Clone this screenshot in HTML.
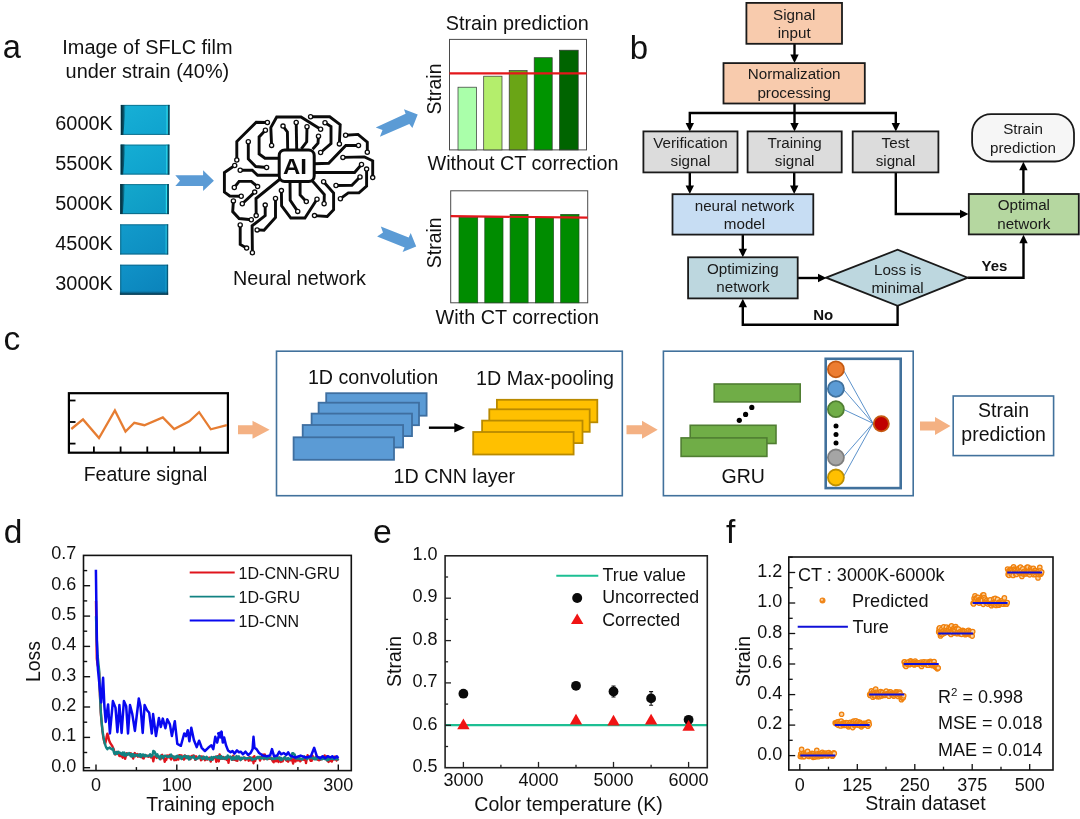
<!DOCTYPE html>
<html><head><meta charset="utf-8"><title>Figure</title>
<style>
html,body{margin:0;padding:0;background:#fff;}
body{width:1080px;height:819px;overflow:hidden;}
svg{display:block;font-family:"Liberation Sans", sans-serif;will-change:transform;}
</style></head>
<body>
<svg width="1080" height="819" viewBox="0 0 1080 819">
<text x="2.7" y="58.3" font-size="32.6" text-anchor="start" fill="#111">a</text>
<text x="147.4" y="53.6" font-size="19.9" text-anchor="middle" fill="#111">Image of SFLC film</text>
<text x="147.4" y="78" font-size="19.9" text-anchor="middle" fill="#111">under strain (40%)</text>
<linearGradient id="fg0" x1="0" y1="0" x2="1" y2="1"><stop offset="0" stop-color="#17B0D6"/><stop offset="1" stop-color="#0FA2CE"/></linearGradient>
<rect x="120.8" y="104.9" width="48.8" height="30.0" fill="url(#fg0)"/>
<linearGradient id="fw0" x1="0" y1="0" x2="1" y2="0"><stop offset="0" stop-color="#031a22" stop-opacity="0.95"/><stop offset="0.55" stop-color="#063f52" stop-opacity="0.8"/><stop offset="1" stop-color="#0a7088" stop-opacity="0"/></linearGradient>
<path d="M120.8,104.9 h5.2 l-2.6,30.0 h-2.6 Z" fill="url(#fw0)"/>
<rect x="166.5" y="104.9" width="1.2" height="30.0" fill="#35E6F2" opacity="0.85"/>
<rect x="167.9" y="104.9" width="1.7" height="30.0" fill="#07384a" opacity="0.85"/>
<rect x="120.8" y="104.9" width="48.8" height="1" fill="#07384a" opacity="0.45"/>
<rect x="120.8" y="133.9" width="48.8" height="1" fill="#07384a" opacity="0.5"/>
<text x="112.8" y="130.3" font-size="19.9" text-anchor="end" fill="#111">6000K</text>
<linearGradient id="fg1" x1="0" y1="0" x2="1" y2="1"><stop offset="0" stop-color="#15AED4"/><stop offset="1" stop-color="#0E9FCC"/></linearGradient>
<rect x="120.6" y="144.6" width="48.8" height="30.0" fill="url(#fg1)"/>
<linearGradient id="fw1" x1="0" y1="0" x2="1" y2="0"><stop offset="0" stop-color="#031a22" stop-opacity="0.95"/><stop offset="0.55" stop-color="#063f52" stop-opacity="0.8"/><stop offset="1" stop-color="#0a7088" stop-opacity="0"/></linearGradient>
<path d="M120.6,144.6 h5.2 l-2.6,30.0 h-2.6 Z" fill="url(#fw1)"/>
<rect x="166.3" y="144.6" width="1.2" height="30.0" fill="#35E6F2" opacity="0.85"/>
<rect x="167.7" y="144.6" width="1.7" height="30.0" fill="#07384a" opacity="0.85"/>
<rect x="120.6" y="144.6" width="48.8" height="1" fill="#07384a" opacity="0.45"/>
<rect x="120.6" y="173.6" width="48.8" height="1" fill="#07384a" opacity="0.5"/>
<text x="112.8" y="170.2" font-size="19.9" text-anchor="end" fill="#111">5500K</text>
<linearGradient id="fg2" x1="0" y1="0" x2="1" y2="1"><stop offset="0" stop-color="#14A8CC"/><stop offset="1" stop-color="#0D98C4"/></linearGradient>
<rect x="120.2" y="184.1" width="48.7" height="30.0" fill="url(#fg2)"/>
<linearGradient id="fw2" x1="0" y1="0" x2="1" y2="0"><stop offset="0" stop-color="#031a22" stop-opacity="0.95"/><stop offset="0.55" stop-color="#063f52" stop-opacity="0.8"/><stop offset="1" stop-color="#0a7088" stop-opacity="0"/></linearGradient>
<path d="M120.2,184.1 h5.2 l-2.6,30.0 h-2.6 Z" fill="url(#fw2)"/>
<rect x="165.8" y="184.1" width="1.2" height="30.0" fill="#35E6F2" opacity="0.85"/>
<rect x="167.2" y="184.1" width="1.7" height="30.0" fill="#07384a" opacity="0.85"/>
<rect x="120.2" y="184.1" width="48.7" height="1" fill="#07384a" opacity="0.45"/>
<rect x="120.2" y="213.1" width="48.7" height="1" fill="#07384a" opacity="0.5"/>
<text x="112.8" y="209.8" font-size="19.9" text-anchor="end" fill="#111">5000K</text>
<linearGradient id="fg3" x1="0" y1="0" x2="1" y2="1"><stop offset="0" stop-color="#129BCB"/><stop offset="1" stop-color="#0C8CC0"/></linearGradient>
<rect x="120.1" y="224.3" width="48.1" height="30.2" fill="url(#fg3)"/>
<rect x="120.1" y="224.3" width="1.2" height="30.2" fill="#0A4F66" opacity="0.5"/>
<rect x="165.6" y="224.3" width="1.1" height="30.2" fill="#30D8EE" opacity="0.8"/>
<rect x="166.9" y="224.3" width="1.3" height="30.2" fill="#07384a" opacity="0.6"/>
<rect x="120.1" y="224.3" width="48.1" height="1" fill="#07384a" opacity="0.45"/>
<rect x="120.1" y="253.5" width="48.1" height="1" fill="#07384a" opacity="0.5"/>
<text x="112.8" y="250.0" font-size="19.9" text-anchor="end" fill="#111">4500K</text>
<linearGradient id="fg4" x1="0" y1="0" x2="1" y2="1"><stop offset="0" stop-color="#1093C8"/><stop offset="1" stop-color="#0A82BA"/></linearGradient>
<rect x="120.1" y="264.7" width="48.0" height="30.0" fill="url(#fg4)"/>
<rect x="120.1" y="264.7" width="1.2" height="30.0" fill="#0A4F66" opacity="0.5"/>
<rect x="165.5" y="264.7" width="1.1" height="30.0" fill="#30D8EE" opacity="0.35"/>
<rect x="166.8" y="264.7" width="1.3" height="30.0" fill="#07384a" opacity="0.6"/>
<rect x="120.1" y="264.7" width="48.0" height="1" fill="#07384a" opacity="0.45"/>
<rect x="120.1" y="293.7" width="48.0" height="1" fill="#07384a" opacity="0.5"/>
<text x="112.8" y="290.2" font-size="19.9" text-anchor="end" fill="#111">3000K</text>
<linearGradient id="fbot" x1="0" y1="0" x2="0" y2="1"><stop offset="0" stop-color="#062a3a" stop-opacity="0"/><stop offset="1" stop-color="#062a3a" stop-opacity="0.85"/></linearGradient>
<rect x="119.8" y="291" width="48.4" height="3.7" fill="url(#fbot)"/>
<path d="M-19.3,-5.4 L8.5,-5.4 L8.5,-10.4 L19.3,0 L8.5,10.4 L8.5,5.4 L-19.3,5.4 L-14.6,0 Z" transform="translate(194.6,180.7)" fill="#5B9BD5"/>
<path d="M375.7,127.4 L405.6,113.8 L404,109.2 L417.7,114.5 L412.4,127.9 L409.3,124 L379.9,136.8 L382.5,129.9 Z" fill="#5B9BD5"/>
<path d="M380.8,226.4 L408.7,237.5 L410.7,233 L416.2,246.6 L402.6,251.9 L404.6,247.6 L377.1,236.4 L383,232.6 Z" fill="#5B9BD5"/>
<g fill="none" stroke="#0b0b0b" stroke-width="2.9" stroke-linejoin="miter" stroke-linecap="butt">
<path d="M267.4,122.5 L256.2,122.2 L236.8,141.5 L236.8,160"/>
<path d="M265.4,130.2 L259.1,136.9 L259.1,154 L265,158.2 L279,158.2"/>
<path d="M248.3,141.8 L248.3,158.9 L255.7,166.5 L266.6,167.5"/>
<path d="M271.6,145.4 L270.8,127.6 L276.7,117 L301,117 L320.6,129.3"/>
<path d="M283,126.1 L287.4,132 L287.7,150"/>
<path d="M296.2,122.5 L296.7,150"/>
<path d="M307,126.8 L306.7,141.8 L301.3,148.8"/>
<path d="M234.7,165.5 L224.4,172.5 L224.4,192.1 L229.8,196 L241.2,196.3"/>
<path d="M240.2,170.3 L252.2,170.3 L257.6,175.3 L279,175.3"/>
<path d="M234.3,187.5 L239.1,181.4 L251.3,181.4 L257.6,186.6"/>
<path d="M279.5,179.5 L256,198.5 L256.2,215.6"/>
<path d="M318.5,136.2 L318,143.2 L312.6,149.3"/>
<path d="M310.6,116.8 L329.7,116.8 L340.2,124.7 L339.4,143.9"/>
<path d="M325,122.7 L331,126.6 L331,143.7 L320.6,152.5"/>
<path d="M345.6,135.2 L358,134.4 L367.3,142.2 L367.3,152.3"/>
<path d="M358.5,145.5 L345.8,145.5 L328.7,163.3 L314.5,163.7"/>
<path d="M342.9,157.4 L364.4,156.9 L372.7,160.8 L372.7,177.6"/>
<path d="M314.5,172.5 L354.6,172.5 L361.5,164.5"/>
<path d="M336,185.5 L351.9,185.3 L360,177"/>
<path d="M366.6,169.1 L366.6,186.2 L359,192.9 L348.3,192.9 L340.4,198.7"/>
<path d="M323.6,181.8 L333.6,193.1 L333.6,209.7 L327.2,216.5 L314.5,215.6"/>
<path d="M312.2,180.8 L324.3,194.5 L324.1,203.8"/>
<path d="M254.7,192.1 L242.3,203.8"/>
<path d="M233.4,200.9 L232.7,211.6 L239.1,218.5 L251.3,219.8"/>
<path d="M265.2,205.1 L265.2,215.6 L252.1,225.8 L252.4,252.7"/>
<path d="M275.5,198.5 L275.5,217.5 L264,230.2 L257.1,229.9"/>
<path d="M240.2,225 L240.2,244.4 L246.6,248.1"/>
<path d="M281.4,190.6 L281.6,205.8 L290.8,218 L304.9,218 L317,199.2"/>
<path d="M290,181.5 L290.2,200.4 L297.7,211.4"/>
<path d="M300.1,181.5 L300.1,195 L306.3,201.6"/>
</g>
<g fill="#fff" stroke="#0b0b0b" stroke-width="1.3">
<circle cx="267.4" cy="122.5" r="2.1"/>
<circle cx="236.8" cy="160" r="2.1"/>
<circle cx="265.4" cy="130.2" r="2.1"/>
<circle cx="248.3" cy="141.8" r="2.1"/>
<circle cx="266.6" cy="167.5" r="2.1"/>
<circle cx="271.6" cy="145.4" r="2.1"/>
<circle cx="320.6" cy="129.3" r="2.1"/>
<circle cx="283" cy="126.1" r="2.1"/>
<circle cx="296.2" cy="122.5" r="2.1"/>
<circle cx="307" cy="126.8" r="2.1"/>
<circle cx="234.7" cy="165.5" r="2.1"/>
<circle cx="241.2" cy="196.3" r="2.1"/>
<circle cx="240.2" cy="170.3" r="2.1"/>
<circle cx="234.3" cy="187.5" r="2.1"/>
<circle cx="257.6" cy="186.6" r="2.1"/>
<circle cx="256.2" cy="215.6" r="2.1"/>
<circle cx="318.5" cy="136.2" r="2.1"/>
<circle cx="310.6" cy="116.8" r="2.1"/>
<circle cx="339.4" cy="143.9" r="2.1"/>
<circle cx="325" cy="122.7" r="2.1"/>
<circle cx="320.6" cy="152.5" r="2.1"/>
<circle cx="345.6" cy="135.2" r="2.1"/>
<circle cx="367.3" cy="152.3" r="2.1"/>
<circle cx="358.5" cy="145.5" r="2.1"/>
<circle cx="342.9" cy="157.4" r="2.1"/>
<circle cx="372.7" cy="177.6" r="2.1"/>
<circle cx="361.5" cy="164.5" r="2.1"/>
<circle cx="336" cy="185.5" r="2.1"/>
<circle cx="360" cy="177" r="2.1"/>
<circle cx="366.6" cy="169.1" r="2.1"/>
<circle cx="340.4" cy="198.7" r="2.1"/>
<circle cx="323.6" cy="181.8" r="2.1"/>
<circle cx="314.5" cy="215.6" r="2.1"/>
<circle cx="324.1" cy="203.8" r="2.1"/>
<circle cx="254.7" cy="192.1" r="2.1"/>
<circle cx="242.3" cy="203.8" r="2.1"/>
<circle cx="233.4" cy="200.9" r="2.1"/>
<circle cx="251.3" cy="219.8" r="2.1"/>
<circle cx="265.2" cy="205.1" r="2.1"/>
<circle cx="252.4" cy="252.7" r="2.1"/>
<circle cx="275.5" cy="198.5" r="2.1"/>
<circle cx="257.1" cy="229.9" r="2.1"/>
<circle cx="240.2" cy="225" r="2.1"/>
<circle cx="246.6" cy="248.1" r="2.1"/>
<circle cx="281.4" cy="190.6" r="2.1"/>
<circle cx="317" cy="199.2" r="2.1"/>
<circle cx="297.7" cy="211.4" r="2.1"/>
<circle cx="306.3" cy="201.6" r="2.1"/>
</g>
<rect x="279.2" y="150" width="35" height="31.5" rx="5.5" fill="#fff" stroke="#0b0b0b" stroke-width="3"/>
<text transform="translate(294.9,174) scale(1.09,1)" font-size="22" font-weight="bold" text-anchor="middle" fill="#0b0b0b">AI</text>
<text x="299.5" y="284.7" font-size="19.8" text-anchor="middle" fill="#111">Neural network</text>
<text x="517.2" y="30" font-size="19.8" text-anchor="middle" fill="#111">Strain prediction</text>
<rect x="449.5" y="39.4" width="137" height="110.5" fill="#fff" stroke="#4a4a4a" stroke-width="1"/>
<rect x="458" y="87.2" width="18.5" height="62.7" fill="#AAFFAA" stroke="#333" stroke-width="0.7"/>
<rect x="483.7" y="76.2" width="18.3" height="73.7" fill="#B4EE6C" stroke="#333" stroke-width="0.7"/>
<rect x="509.2" y="70.6" width="17.9" height="79.3" fill="#6AA516" stroke="#333" stroke-width="0.7"/>
<rect x="534.2" y="57.7" width="18.0" height="92.2" fill="#009400" stroke="#333" stroke-width="0.7"/>
<rect x="559.5" y="50.2" width="18.7" height="99.7" fill="#006400" stroke="#333" stroke-width="0.7"/>
<line x1="449.5" y1="73.3" x2="586.5" y2="73.3" stroke="#E3171B" stroke-width="2.2"/>
<text transform="translate(440.6,89) rotate(-90)" font-size="19.5" text-anchor="middle" fill="#111">Strain</text>
<text x="523" y="169.6" font-size="19.8" text-anchor="middle" fill="#111">Without CT correction</text>
<rect x="450.7" y="190.8" width="137" height="112" fill="#fff" stroke="#4a4a4a" stroke-width="1"/>
<rect x="459" y="217.3" width="18.7" height="85.5" fill="#008C00" stroke="#1d4d1d" stroke-width="0.7"/>
<rect x="484.8" y="217.3" width="18.2" height="85.5" fill="#008C00" stroke="#1d4d1d" stroke-width="0.7"/>
<rect x="510.1" y="214.4" width="18.0" height="88.4" fill="#008C00" stroke="#1d4d1d" stroke-width="0.7"/>
<rect x="535.4" y="217.3" width="18.1" height="85.5" fill="#008C00" stroke="#1d4d1d" stroke-width="0.7"/>
<rect x="560.7" y="214.4" width="18.3" height="88.4" fill="#008C00" stroke="#1d4d1d" stroke-width="0.7"/>
<line x1="450.7" y1="216.1" x2="587.7" y2="217.7" stroke="#E3171B" stroke-width="2.2"/>
<text transform="translate(441.2,242.8) rotate(-90)" font-size="19.5" text-anchor="middle" fill="#111">Strain</text>
<text x="517.3" y="324.1" font-size="19.8" text-anchor="middle" fill="#111">With CT correction</text>
<text x="629.7" y="58.7" font-size="33" text-anchor="start" fill="#111">b</text>
<g fill="none" stroke="#000" stroke-width="2.4" stroke-linejoin="miter">
<path d="M794.5,43.8 V58"/>
<path d="M794.5,103.5 V126"/>
<path d="M689.8,126 V113 H895.8 V126"/>
<path d="M689.8,172 V188"/>
<path d="M794.2,172 V188"/>
<path d="M742.8,234.6 V251"/>
<path d="M797.7,278 H820"/>
<path d="M895.8,172 V214 H962"/>
<path d="M1023.4,194 V168"/>
<path d="M967.7,277.7 H1023.5 V241"/>
<path d="M897.6,305.8 V324.8 H742.8 V305"/>
</g>
<path d="M794.5,63.1 L790.3,54.6 L798.7,54.6 Z" fill="#000"/>
<path d="M794.5,131.4 L790.3,122.9 L798.7,122.9 Z" fill="#000"/>
<path d="M689.8,131.4 L685.5999999999999,122.9 L694.0,122.9 Z" fill="#000"/>
<path d="M895.8,131.4 L891.5999999999999,122.9 L900.0,122.9 Z" fill="#000"/>
<path d="M689.8,194 L685.5999999999999,185.5 L694.0,185.5 Z" fill="#000"/>
<path d="M794.2,194 L790.0,185.5 L798.4000000000001,185.5 Z" fill="#000"/>
<path d="M742.8,257.3 L738.5999999999999,248.8 L747.0,248.8 Z" fill="#000"/>
<path d="M826.5,278 L818.0,273.8 L818.0,282.2 Z" fill="#000"/>
<path d="M968.5,214 L960.0,209.8 L960.0,218.2 Z" fill="#000"/>
<path d="M1023.4,161.8 L1019.1999999999999,170.3 L1027.6,170.3 Z" fill="#000"/>
<path d="M1023.5,234.8 L1019.3,243.3 L1027.7,243.3 Z" fill="#000"/>
<path d="M742.8,298.8 L738.5999999999999,307.3 L747.0,307.3 Z" fill="#000"/>
<rect x="746.4" y="2.9" width="95.6" height="40.9" fill="#F8CBAD" stroke="#1a1a1a" stroke-width="1.8"/><text x="794.2" y="19.7" font-size="15.2" text-anchor="middle" fill="#1a1a1a">Signal</text><text x="794.2" y="38" font-size="15.2" text-anchor="middle" fill="#1a1a1a">input</text>
<rect x="723.5" y="63.1" width="141.3" height="40.4" fill="#F8CBAD" stroke="#1a1a1a" stroke-width="1.8"/><text x="794.15" y="79.4" font-size="15.2" text-anchor="middle" fill="#1a1a1a">Normalization</text><text x="794.15" y="98.2" font-size="15.2" text-anchor="middle" fill="#1a1a1a">processing</text>
<rect x="643.4" y="131.4" width="94.1" height="41.0" fill="#DCDCDC" stroke="#1a1a1a" stroke-width="1.8"/><text x="690.45" y="148" font-size="15.2" text-anchor="middle" fill="#1a1a1a">Verification</text><text x="690.45" y="166.1" font-size="15.2" text-anchor="middle" fill="#1a1a1a">signal</text>
<rect x="747.6" y="131.4" width="94.1" height="41.0" fill="#DCDCDC" stroke="#1a1a1a" stroke-width="1.8"/><text x="794.6500000000001" y="148" font-size="15.2" text-anchor="middle" fill="#1a1a1a">Training</text><text x="794.6500000000001" y="166.1" font-size="15.2" text-anchor="middle" fill="#1a1a1a">signal</text>
<rect x="852.7" y="131.4" width="85.7" height="41.0" fill="#DCDCDC" stroke="#1a1a1a" stroke-width="1.8"/><text x="895.55" y="148" font-size="15.2" text-anchor="middle" fill="#1a1a1a">Test</text><text x="895.55" y="166.1" font-size="15.2" text-anchor="middle" fill="#1a1a1a">signal</text>
<rect x="672.5" y="194.2" width="140.8" height="40.4" fill="#C7DDF3" stroke="#1a1a1a" stroke-width="1.8"/><text x="744.5" y="210.6" font-size="15.2" text-anchor="middle" fill="#1a1a1a">neural network</text><text x="744.5" y="229.1" font-size="15.2" text-anchor="middle" fill="#1a1a1a">model</text>
<rect x="688.1" y="257.3" width="109.6" height="41.1" fill="#BDD7DF" stroke="#1a1a1a" stroke-width="1.8"/><text x="742.9000000000001" y="274.3" font-size="15.2" text-anchor="middle" fill="#1a1a1a">Optimizing</text><text x="742.9000000000001" y="292.4" font-size="15.2" text-anchor="middle" fill="#1a1a1a">network</text>
<rect x="968.8" y="194" width="110.0" height="40.4" fill="#B5D7A0" stroke="#1a1a1a" stroke-width="1.8"/><text x="1023.8" y="210.4" font-size="15.2" text-anchor="middle" fill="#1a1a1a">Optimal</text><text x="1023.8" y="228.9" font-size="15.2" text-anchor="middle" fill="#1a1a1a">network</text>
<rect x="972.1" y="114.1" width="101.9" height="47.4" fill="#F6F6F6" stroke="#1a1a1a" stroke-width="1.8" rx="19"/><text x="1023.05" y="133.8" font-size="15.2" text-anchor="middle" fill="#1a1a1a">Strain</text><text x="1023.05" y="152.6" font-size="15.2" text-anchor="middle" fill="#1a1a1a">prediction</text>
<path d="M826.1,277.7 L897.6,249.7 L967.7,277.7 L897.6,305.8 Z" fill="#BDD7DF" stroke="#1a1a1a" stroke-width="1.8" stroke-linejoin="miter"/>
<text x="897.6" y="274.5" font-size="15.2" text-anchor="middle" fill="#1a1a1a">Loss is</text>
<text x="897.6" y="292.6" font-size="15.2" text-anchor="middle" fill="#1a1a1a">minimal</text>
<text x="981.5" y="271.4" font-size="15" text-anchor="start" font-weight="bold" fill="#111">Yes</text>
<text x="813.2" y="319.6" font-size="15" text-anchor="start" font-weight="bold" fill="#111">No</text>
<text x="3.4" y="350.0" font-size="33.6" text-anchor="start" fill="#111">c</text>
<rect x="68.9" y="393.2" width="159" height="59.5" fill="#fff" stroke="#000" stroke-width="2.2"/>
<g stroke="#000" stroke-width="1.8">
<line x1="69" y1="400.5" x2="75.5" y2="400.5"/>
<line x1="69" y1="422" x2="75.5" y2="422"/>
<line x1="69" y1="443.6" x2="75.5" y2="443.6"/>
<line x1="93.9" y1="452" x2="93.9" y2="446.5"/>
<line x1="120.6" y1="452" x2="120.6" y2="446.5"/>
<line x1="147.3" y1="452" x2="147.3" y2="446.5"/>
<line x1="174.2" y1="452" x2="174.2" y2="446.5"/>
<line x1="200.2" y1="452" x2="200.2" y2="446.5"/>
</g>
<polyline fill="none" stroke="#E67D32" stroke-width="2.3" stroke-linejoin="miter" points="71.3,429 83,419.4 99,438.1 114.9,410.4 125.5,431.6 134.3,422.8 144.4,425.2 162.8,417.4 174.2,429 189.3,421.3 199.1,412.2 210.8,429.3 226.9,425.2"/>
<text x="145.5" y="481.1" font-size="19.5" text-anchor="middle" fill="#111">Feature signal</text>
<path d="M238,425.3 H252.5 V420.8 L269.6,429.8 L252.5,438.8 V434.3 H238 Z" fill="#F4B183"/>
<path d="M626.5,425.3 H642 V420.8 L657.7,429.8 L642,438.8 V434.3 H626.5 Z" fill="#F4B183"/>
<path d="M920,421.5 H935 V417 L950.5,426 L935,435 V430.5 H920 Z" fill="#F4B183"/>
<rect x="276.5" y="351.2" width="345.8" height="144.5" fill="#fff" stroke="#41719C" stroke-width="1.6"/>
<text x="307.9" y="384.2" font-size="19.7" text-anchor="start" fill="#111">1D convolution</text>
<text x="476.09999999999997" y="385.1" font-size="19.7" text-anchor="start" fill="#111">1D Max-pooling</text>
<text x="393.59999999999997" y="482.7" font-size="19.7" text-anchor="start" fill="#111">1D CNN layer</text>
<rect x="326.2" y="393.2" width="100.4" height="22.5" fill="#5B9BD5" stroke="#3F6FA0" stroke-width="1.8"/>
<rect x="318.6" y="402.7" width="100.4" height="22.5" fill="#5B9BD5" stroke="#3F6FA0" stroke-width="1.8"/>
<rect x="311.6" y="413.6" width="100.4" height="22.5" fill="#5B9BD5" stroke="#3F6FA0" stroke-width="1.8"/>
<rect x="302.7" y="425.0" width="100.4" height="22.5" fill="#5B9BD5" stroke="#3F6FA0" stroke-width="1.8"/>
<rect x="293.6" y="437.3" width="100.4" height="22.5" fill="#5B9BD5" stroke="#3F6FA0" stroke-width="1.8"/>
<rect x="496.9" y="399.8" width="100.4" height="22.5" fill="#FFC000" stroke="#B98A00" stroke-width="1.8"/>
<rect x="489.3" y="409.3" width="100.4" height="22.5" fill="#FFC000" stroke="#B98A00" stroke-width="1.8"/>
<rect x="482.1" y="420.6" width="100.4" height="22.5" fill="#FFC000" stroke="#B98A00" stroke-width="1.8"/>
<rect x="473.2" y="432.0" width="100.4" height="22.5" fill="#FFC000" stroke="#B98A00" stroke-width="1.8"/>
<line x1="428.9" y1="427.7" x2="456" y2="427.7" stroke="#000" stroke-width="2.4"/>
<path d="M465,427.7 L454.3,423 L454.3,432.4 Z" fill="#000"/>
<rect x="663.4" y="351.2" width="249.8" height="144.5" fill="#fff" stroke="#41719C" stroke-width="1.6"/>
<rect x="714.2" y="384.0" width="86.0" height="17.9" fill="#70AD47" stroke="#507E32" stroke-width="1.6"/>
<rect x="690.2" y="425.3" width="85.8" height="18.2" fill="#70AD47" stroke="#507E32" stroke-width="1.6"/>
<rect x="681.1" y="437.9" width="85.8" height="18.5" fill="#70AD47" stroke="#507E32" stroke-width="1.6"/>
<circle cx="751.8" cy="407.4" r="2.6" fill="#000"/>
<circle cx="745.6" cy="414.4" r="2.6" fill="#000"/>
<circle cx="739.3" cy="420.3" r="2.6" fill="#000"/>
<text x="743.2" y="482.7" font-size="19.5" text-anchor="middle" fill="#111">GRU</text>
<rect x="825.7" y="358.8" width="75" height="129.3" fill="#fff" stroke="#41719C" stroke-width="2.6"/>
<line x1="843" y1="369.3" x2="873" y2="423.3" stroke="#4A86C5" stroke-width="0.9"/>
<line x1="843" y1="388.8" x2="873" y2="423.3" stroke="#4A86C5" stroke-width="0.9"/>
<line x1="843" y1="409.2" x2="873" y2="423.3" stroke="#4A86C5" stroke-width="0.9"/>
<line x1="843" y1="457.5" x2="873" y2="423.3" stroke="#4A86C5" stroke-width="0.9"/>
<line x1="843" y1="477.5" x2="873" y2="423.3" stroke="#4A86C5" stroke-width="0.9"/>
<circle cx="835.9" cy="369.3" r="8" fill="#ED7D31" stroke="#C55A11" stroke-width="1.8"/>
<circle cx="835.9" cy="388.8" r="8" fill="#5B9BD5" stroke="#41719C" stroke-width="1.8"/>
<circle cx="835.9" cy="409.2" r="8" fill="#70AD47" stroke="#507E32" stroke-width="1.8"/>
<circle cx="835.9" cy="457.5" r="8" fill="#A5A5A5" stroke="#7F7F7F" stroke-width="1.8"/>
<circle cx="835.9" cy="477.5" r="8" fill="#FFC000" stroke="#BF9000" stroke-width="1.8"/>
<circle cx="881.3" cy="423.8" r="7.6" fill="#C00000" stroke="#C55A11" stroke-width="1.8"/>
<circle cx="836" cy="426" r="2.5" fill="#000"/>
<circle cx="836" cy="434.4" r="2.5" fill="#000"/>
<circle cx="836" cy="443" r="2.5" fill="#000"/>
<rect x="953.2" y="396" width="100.4" height="59.6" fill="#fff" stroke="#41719C" stroke-width="1.6"/>
<text x="1003.6" y="417" font-size="19.5" text-anchor="middle" fill="#111">Strain</text>
<text x="1003.6" y="440.8" font-size="19.5" text-anchor="middle" fill="#111">prediction</text>
<text x="3.8" y="542.6" font-size="33.5" text-anchor="start" fill="#111">d</text>
<polyline fill="none" stroke="#E0141C" stroke-width="2.4" stroke-linejoin="round" points="96.0,600.9 96.8,658.5 97.6,664.6 98.4,667.6 99.2,673.7 100.0,696.4 100.8,713.1 101.7,723.7 102.5,731.3 103.3,737.4 104.1,741.0 104.9,744.0 105.7,741.9 106.5,737.4 107.3,733.7 108.1,735.6 108.9,739.8 109.7,741.9 110.5,743.4 111.3,744.6 112.2,745.9 113.0,747.7 113.8,749.5 114.6,753.4 115.4,754.4 116.2,753.3 117.0,752.0 117.8,751.9 118.6,753.1 119.4,756.0 120.2,755.0 121.0,756.2 121.8,755.1 122.7,757.7 123.5,754.1 124.3,753.6 125.1,758.9 125.9,756.0 126.7,753.3 127.5,754.7 128.3,754.4 129.1,754.1 129.9,754.4 130.7,753.2 131.5,754.5 132.3,756.6 133.2,758.6 134.0,754.0 134.8,753.1 135.6,756.1 136.4,754.8 137.2,754.0 138.0,756.7 138.8,756.0 139.6,754.6 140.4,756.9 141.2,756.5 142.0,756.8 142.8,758.1 143.7,758.5 144.5,755.4 145.3,755.1 146.1,756.3 146.9,755.6 147.7,756.2 148.5,756.7 149.3,755.8 150.1,756.2 150.9,757.4 151.7,755.3 152.5,756.2 153.3,761.2 154.2,756.6 155.0,756.6 155.8,755.9 156.6,757.9 157.4,756.5 158.2,757.3 159.0,757.3 159.8,758.0 160.6,759.2 161.4,755.7 162.2,754.8 163.0,757.9 163.8,756.3 164.7,761.8 165.5,759.8 166.3,759.9 167.1,755.4 167.9,757.1 168.7,757.2 169.5,755.0 170.3,758.0 171.1,759.5 171.9,758.0 172.7,756.4 173.5,756.6 174.3,760.2 175.2,759.3 176.0,760.1 176.8,756.5 177.6,759.3 178.4,759.6 179.2,755.1 180.0,755.2 180.8,758.1 181.6,755.5 182.4,758.8 183.2,757.2 184.0,759.6 184.8,755.4 185.7,758.2 186.5,756.2 187.3,757.7 188.1,758.4 188.9,758.6 189.7,756.6 190.5,759.0 191.3,756.6 192.1,755.8 192.9,756.3 193.7,755.4 194.5,756.6 195.3,759.9 196.2,756.3 197.0,758.1 197.8,758.2 198.6,757.8 199.4,758.1 200.2,756.5 201.0,760.3 201.8,756.4 202.6,759.2 203.4,756.9 204.2,756.9 205.0,760.2 205.8,759.3 206.7,759.2 207.5,759.6 208.3,758.5 209.1,757.7 209.9,757.8 210.7,761.6 211.5,758.8 212.3,759.8 213.1,759.1 213.9,757.1 214.7,757.8 215.5,757.3 216.3,761.9 217.2,756.2 218.0,759.2 218.8,761.4 219.6,754.4 220.4,757.3 221.2,758.7 222.0,757.0 222.8,758.6 223.6,757.1 224.4,758.8 225.2,759.1 226.0,758.4 226.8,759.9 227.7,756.6 228.5,762.9 229.3,757.8 230.1,757.9 230.9,757.7 231.7,756.9 232.5,759.8 233.3,755.6 234.1,759.7 234.9,758.3 235.7,760.3 236.5,756.9 237.3,760.9 238.2,757.0 239.0,757.3 239.8,758.2 240.6,759.9 241.4,757.8 242.2,758.9 243.0,758.1 243.8,758.4 244.6,757.4 245.4,760.1 246.2,758.7 247.0,758.5 247.8,758.4 248.7,760.8 249.5,757.0 250.3,759.1 251.1,760.4 251.9,758.7 252.7,757.5 253.5,763.2 254.3,756.2 255.1,761.1 255.9,757.9 256.7,758.5 257.5,757.6 258.3,757.8 259.2,757.2 260.0,760.6 260.8,757.6 261.6,757.1 262.4,757.3 263.2,754.6 264.0,759.2 264.8,754.5 265.6,757.4 266.4,758.9 267.2,758.6 268.0,757.0 268.8,758.9 269.7,758.0 270.5,758.8 271.3,757.8 272.1,760.0 272.9,761.4 273.7,762.3 274.5,758.0 275.3,759.0 276.1,761.3 276.9,758.1 277.7,760.4 278.5,762.0 279.3,757.4 280.2,759.1 281.0,761.9 281.8,760.8 282.6,761.3 283.4,758.6 284.2,757.8 285.0,757.1 285.8,759.9 286.6,760.8 287.4,759.0 288.2,761.7 289.0,759.1 289.8,759.6 290.7,760.3 291.5,758.4 292.3,760.2 293.1,763.6 293.9,759.0 294.7,758.7 295.5,761.4 296.3,759.6 297.1,758.0 297.9,760.5 298.7,759.2 299.5,758.6 300.3,761.3 301.2,760.3 302.0,759.3 302.8,758.9 303.6,759.8 304.4,759.6 305.2,758.9 306.0,763.1 306.8,758.7 307.6,755.2 308.4,757.0 309.2,757.5 310.0,759.4 310.8,760.9 311.7,760.8 312.5,755.6 313.3,759.1 314.1,759.1 314.9,758.7 315.7,758.0 316.5,756.2 317.3,759.1 318.1,759.9 318.9,760.3 319.7,760.0 320.5,758.0 321.3,759.2 322.2,757.8 323.0,758.7 323.8,757.3 324.6,755.4 325.4,757.9 326.2,759.3 327.0,756.2 327.8,761.2 328.6,761.9 329.4,760.0 330.2,759.7 331.0,761.0 331.8,761.6 332.7,758.7 333.5,759.6 334.3,759.0 335.1,756.6 335.9,759.4 336.7,760.4 337.5,759.8 338.3,758.4"/>
<polyline fill="none" stroke="#128282" stroke-width="2.4" stroke-linejoin="round" points="96.0,616.1 96.8,640.3 97.6,655.5 98.4,663.1 99.2,670.6 100.0,694.9 100.8,711.6 101.7,722.8 102.5,730.7 103.3,735.9 104.1,740.4 104.9,743.7 105.7,746.2 106.5,748.0 107.3,749.2 108.1,748.1 108.9,748.1 109.7,747.5 110.5,748.7 111.3,748.9 112.2,749.4 113.0,748.5 113.8,752.0 114.6,754.1 115.4,752.5 116.2,752.1 117.0,754.1 117.8,752.3 118.6,751.8 119.4,753.1 120.2,752.8 121.0,753.9 121.8,754.5 122.7,752.6 123.5,755.2 124.3,752.6 125.1,755.8 125.9,753.9 126.7,755.3 127.5,753.4 128.3,754.3 129.1,753.1 129.9,754.2 130.7,756.2 131.5,754.0 132.3,756.7 133.2,754.2 134.0,755.2 134.8,756.3 135.6,754.7 136.4,755.0 137.2,755.2 138.0,756.0 138.8,754.5 139.6,756.3 140.4,754.2 141.2,756.9 142.0,755.8 142.8,754.5 143.7,754.7 144.5,756.6 145.3,754.9 146.1,755.6 146.9,755.9 147.7,756.2 148.5,755.6 149.3,755.4 150.1,754.3 150.9,756.6 151.7,756.3 152.5,755.4 153.3,751.0 154.2,751.3 155.0,752.4 155.8,755.6 156.6,756.2 157.4,754.3 158.2,757.0 159.0,756.8 159.8,759.1 160.6,755.7 161.4,756.7 162.2,755.9 163.0,758.2 163.8,757.0 164.7,755.8 165.5,755.8 166.3,756.2 167.1,756.7 167.9,757.0 168.7,756.2 169.5,757.0 170.3,756.0 171.1,754.5 171.9,756.1 172.7,756.9 173.5,756.8 174.3,758.4 175.2,756.5 176.0,758.0 176.8,755.9 177.6,755.8 178.4,757.1 179.2,756.5 180.0,758.0 180.8,756.3 181.6,759.0 182.4,757.3 183.2,756.9 184.0,755.9 184.8,756.2 185.7,756.0 186.5,758.0 187.3,757.2 188.1,756.1 188.9,759.5 189.7,759.1 190.5,757.1 191.3,757.4 192.1,757.4 192.9,757.5 193.7,756.1 194.5,758.1 195.3,759.2 196.2,759.3 197.0,758.6 197.8,757.7 198.6,758.1 199.4,755.9 200.2,757.1 201.0,757.8 201.8,758.1 202.6,759.1 203.4,756.7 204.2,757.6 205.0,757.5 205.8,759.1 206.7,756.8 207.5,758.5 208.3,759.1 209.1,758.8 209.9,759.9 210.7,758.3 211.5,757.1 212.3,759.8 213.1,757.5 213.9,757.1 214.7,757.2 215.5,756.6 216.3,757.4 217.2,757.0 218.0,758.1 218.8,756.1 219.6,757.4 220.4,758.7 221.2,756.1 222.0,757.4 222.8,758.7 223.6,757.6 224.4,757.9 225.2,758.8 226.0,757.1 226.8,758.7 227.7,755.5 228.5,757.4 229.3,757.4 230.1,756.4 230.9,758.0 231.7,759.7 232.5,757.7 233.3,756.8 234.1,759.3 234.9,757.7 235.7,758.4 236.5,756.1 237.3,759.1 238.2,756.5 239.0,756.4 239.8,758.9 240.6,760.0 241.4,758.1 242.2,758.7 243.0,757.7 243.8,757.5 244.6,758.4 245.4,758.1 246.2,758.7 247.0,758.2 247.8,758.1 248.7,758.3 249.5,757.8 250.3,757.8 251.1,757.8 251.9,759.9 252.7,759.0 253.5,759.2 254.3,759.1 255.1,758.5 255.9,758.9 256.7,757.8 257.5,756.9 258.3,758.2 259.2,756.7 260.0,757.3 260.8,758.4 261.6,758.5 262.4,757.7 263.2,758.5 264.0,757.1 264.8,758.2 265.6,758.6 266.4,757.4 267.2,759.3 268.0,758.0 268.8,757.6 269.7,757.5 270.5,758.1 271.3,758.5 272.1,759.3 272.9,758.3 273.7,758.7 274.5,759.0 275.3,757.8 276.1,758.6 276.9,756.7 277.7,757.4 278.5,758.5 279.3,757.7 280.2,760.1 281.0,757.8 281.8,760.0 282.6,759.0 283.4,758.4 284.2,757.8 285.0,757.0 285.8,759.6 286.6,759.4 287.4,758.5 288.2,758.0 289.0,759.5 289.8,758.6 290.7,758.5 291.5,757.8 292.3,753.1 293.1,753.1 293.9,753.9 294.7,754.4 295.5,758.3 296.3,758.7 297.1,758.0 297.9,758.5 298.7,758.6 299.5,757.8 300.3,759.1 301.2,758.8 302.0,759.5 302.8,758.9 303.6,758.0 304.4,756.4 305.2,757.5 306.0,757.5 306.8,759.2 307.6,758.0 308.4,758.2 309.2,757.8 310.0,758.1 310.8,758.1 311.7,757.5 312.5,758.3 313.3,758.7 314.1,757.5 314.9,759.3 315.7,758.0 316.5,759.3 317.3,757.0 318.1,758.3 318.9,757.3 319.7,757.9 320.5,759.2 321.3,757.4 322.2,759.2 323.0,758.6 323.8,757.2 324.6,759.1 325.4,758.6 326.2,759.2 327.0,760.2 327.8,757.3 328.6,760.0 329.4,757.5 330.2,758.7 331.0,758.7 331.8,758.6 332.7,758.7 333.5,758.2 334.3,759.4 335.1,759.1 335.9,757.9 336.7,759.1 337.5,759.5 338.3,758.4"/>
<polyline fill="none" stroke="#0808F0" stroke-width="2.5" stroke-linejoin="round" points="95.9,569.8 96.3,600.0 96.9,640.0 97.5,662.0 98.0,670.0 99.9,689.4 101.2,702.4 103.1,677.8 104.4,706.3 105.7,721.9 108.1,704.4 109.9,733.5 112.9,701.1 115.5,707.6 117.4,732.2 119.4,705.0 121.6,732.9 123.9,701.1 126.2,706.3 128.0,733.5 130.0,705.0 132.3,714.1 134.9,730.9 138.8,698.5 140.5,706.3 142.7,732.9 144.6,705.0 147.0,710.2 149.2,712.8 151.8,733.5 153.1,714.1 156.0,736.1 158.9,718.0 160.8,727.0 162.8,718.6 165.4,728.3 167.3,719.3 169.9,724.4 171.9,736.1 174.8,721.2 177.3,743.9 180.9,745.8 184.2,733.5 185.9,736.1 187.7,730.3 189.4,741.3 191.3,727.7 193.9,740.0 196.7,747.1 199.1,740.7 201.7,747.8 204.9,751.0 208.2,747.8 211.4,745.2 213.3,749.1 215.3,736.8 217.2,742.6 219.2,733.5 220.5,737.4 221.8,732.2 218.2,733.5 219.5,736.1 221.5,731.6 222.8,742.6 224.1,737.4 226.0,745.2 228.0,750.4 230.6,752.3 232.5,751.0 234.4,753.6 237.0,750.4 239.0,752.3 240.9,751.7 242.9,754.3 245.5,751.7 248.1,754.9 250.6,753.0 252.6,749.1 253.5,736.8 254.5,747.8 256.5,749.1 259.1,753.0 263.0,755.6 266.9,756.2 270.1,755.6 272.0,749.1 274.0,756.2 277.2,755.6 279.2,751.7 281.1,754.3 283.7,753.0 286.3,754.9 288.2,752.3 290.2,755.6 295.4,757.5 300.6,755.6 305.7,757.5 310.9,756.2 314.2,747.8 316.8,756.2 320.0,758.2 322.6,756.2 325.2,758.2 327.8,756.2 330.4,757.5 332.3,756.2 334.3,758.2 336.9,756.2 338.2,758.2"/>
<rect x="83.5" y="555.4" width="267.8" height="215.2" fill="none" stroke="#111" stroke-width="1.6"/>
<g stroke="#111" stroke-width="1.4">
<line x1="83.5" y1="767.7" x2="90.1" y2="767.7"/>
<line x1="83.5" y1="752.5" x2="87.2" y2="752.5"/>
<line x1="83.5" y1="737.4" x2="90.1" y2="737.4"/>
<line x1="83.5" y1="722.2" x2="87.2" y2="722.2"/>
<line x1="83.5" y1="707.0" x2="90.1" y2="707.0"/>
<line x1="83.5" y1="691.9" x2="87.2" y2="691.9"/>
<line x1="83.5" y1="676.7" x2="90.1" y2="676.7"/>
<line x1="83.5" y1="661.5" x2="87.2" y2="661.5"/>
<line x1="83.5" y1="646.4" x2="90.1" y2="646.4"/>
<line x1="83.5" y1="631.2" x2="87.2" y2="631.2"/>
<line x1="83.5" y1="616.1" x2="90.1" y2="616.1"/>
<line x1="83.5" y1="600.9" x2="87.2" y2="600.9"/>
<line x1="83.5" y1="585.7" x2="90.1" y2="585.7"/>
<line x1="83.5" y1="570.6" x2="87.2" y2="570.6"/>
<line x1="96.0" y1="770.6" x2="96.0" y2="764.4"/>
<line x1="176.8" y1="770.6" x2="176.8" y2="764.4"/>
<line x1="257.5" y1="770.6" x2="257.5" y2="764.4"/>
<line x1="338.3" y1="770.6" x2="338.3" y2="764.4"/>
<line x1="136.4" y1="770.6" x2="136.4" y2="767.1"/>
<line x1="217.2" y1="770.6" x2="217.2" y2="767.1"/>
<line x1="297.9" y1="770.6" x2="297.9" y2="767.1"/>
</g>
<text x="76.4" y="771.6" font-size="18" text-anchor="end" fill="#111">0.0</text>
<text x="76.4" y="741.27" font-size="18" text-anchor="end" fill="#111">0.1</text>
<text x="76.4" y="710.94" font-size="18" text-anchor="end" fill="#111">0.2</text>
<text x="76.4" y="680.61" font-size="18" text-anchor="end" fill="#111">0.3</text>
<text x="76.4" y="650.28" font-size="18" text-anchor="end" fill="#111">0.4</text>
<text x="76.4" y="619.95" font-size="18" text-anchor="end" fill="#111">0.5</text>
<text x="76.4" y="589.62" font-size="18" text-anchor="end" fill="#111">0.6</text>
<text x="76.4" y="559.2900000000001" font-size="18" text-anchor="end" fill="#111">0.7</text>
<text x="96.0" y="790.7" font-size="18" text-anchor="middle" fill="#111">0</text>
<text x="176.76999999999998" y="790.7" font-size="18" text-anchor="middle" fill="#111">100</text>
<text x="257.53999999999996" y="790.7" font-size="18" text-anchor="middle" fill="#111">200</text>
<text x="338.31" y="790.7" font-size="18" text-anchor="middle" fill="#111">300</text>
<text x="210.5" y="810.6" font-size="19.5" text-anchor="middle" fill="#111">Training epoch</text>
<text transform="translate(39.5,661.5) rotate(-90)" font-size="19.5" text-anchor="middle" fill="#111">Loss</text>
<line x1="189.7" y1="572.5" x2="234.7" y2="572.5" stroke="#E0141C" stroke-width="1.8"/>
<text x="238.6" y="579.2" font-size="16" text-anchor="start" fill="#111">1D-CNN-GRU</text>
<line x1="189.7" y1="596.7" x2="234.7" y2="596.7" stroke="#128282" stroke-width="1.8"/>
<text x="238.6" y="603" font-size="16" text-anchor="start" fill="#111">1D-GRU</text>
<line x1="189.7" y1="620.5" x2="234.7" y2="620.5" stroke="#0808F0" stroke-width="1.8"/>
<text x="238.6" y="626.7" font-size="16" text-anchor="start" fill="#111">1D-CNN</text>
<text x="373.0" y="542.8" font-size="33.8" text-anchor="start" fill="#111">e</text>
<line x1="445.1" y1="725.2" x2="707.3" y2="725.2" stroke="#1DBF93" stroke-width="2.2"/>
<circle cx="463.4" cy="693.7" r="4.9" fill="#0a0a0a"/>
<circle cx="576.0" cy="685.8" r="4.9" fill="#0a0a0a"/>
<path d="M613.5,686.0 V697.0 M611.5,686.0 h4 M611.5,697.0 h4" stroke="#111" stroke-width="1.1" fill="none"/>
<circle cx="613.5" cy="691.5" r="4.9" fill="#0a0a0a"/>
<path d="M651.1,691.6 V705.1999999999999 M649.1,691.6 h4 M649.1,705.1999999999999 h4" stroke="#111" stroke-width="1.1" fill="none"/>
<circle cx="651.1" cy="698.4" r="4.9" fill="#0a0a0a"/>
<circle cx="688.6" cy="719.8" r="4.9" fill="#0a0a0a"/>
<path d="M463.4,718.5 L469.6,729.2 L457.2,729.2 Z" fill="#F01414"/>
<path d="M576.0,713.8 L582.2,724.5 L569.8,724.5 Z" fill="#F01414"/>
<path d="M613.5,714.8 L619.7,725.5 L607.3,725.5 Z" fill="#F01414"/>
<path d="M651.1,713.8 L657.3,724.5 L644.9,724.5 Z" fill="#F01414"/>
<path d="M688.6,720.1 L694.8,730.8 L682.4,730.8 Z" fill="#F01414"/>
<rect x="445.1" y="555.8" width="262.2" height="211.9" fill="none" stroke="#222" stroke-width="1.6"/>
<g stroke="#222" stroke-width="1.3">
<line x1="445.1" y1="746.5" x2="448.1" y2="746.5"/>
<line x1="445.1" y1="725.3" x2="451.0" y2="725.3"/>
<line x1="445.1" y1="704.1" x2="448.1" y2="704.1"/>
<line x1="445.1" y1="682.9" x2="451.0" y2="682.9"/>
<line x1="445.1" y1="661.8" x2="448.1" y2="661.8"/>
<line x1="445.1" y1="640.6" x2="451.0" y2="640.6"/>
<line x1="445.1" y1="619.4" x2="448.1" y2="619.4"/>
<line x1="445.1" y1="598.2" x2="451.0" y2="598.2"/>
<line x1="445.1" y1="577.0" x2="448.1" y2="577.0"/>
<line x1="463.4" y1="767.7" x2="463.4" y2="761.9000000000001"/>
<line x1="538.5" y1="767.7" x2="538.5" y2="761.9000000000001"/>
<line x1="613.5" y1="767.7" x2="613.5" y2="761.9000000000001"/>
<line x1="688.6" y1="767.7" x2="688.6" y2="761.9000000000001"/>
<line x1="500.9" y1="767.7" x2="500.9" y2="764.7"/>
<line x1="576.0" y1="767.7" x2="576.0" y2="764.7"/>
<line x1="651.1" y1="767.7" x2="651.1" y2="764.7"/>
</g>
<text x="437.6" y="771.9000000000001" font-size="18" text-anchor="end" fill="#111">0.5</text>
<text x="437.6" y="729.5200000000001" font-size="18" text-anchor="end" fill="#111">0.6</text>
<text x="437.6" y="687.1400000000001" font-size="18" text-anchor="end" fill="#111">0.7</text>
<text x="437.6" y="644.7600000000001" font-size="18" text-anchor="end" fill="#111">0.8</text>
<text x="437.6" y="602.3800000000001" font-size="18" text-anchor="end" fill="#111">0.9</text>
<text x="437.6" y="560.0000000000001" font-size="18" text-anchor="end" fill="#111">1.0</text>
<text x="463.4" y="786" font-size="18" text-anchor="middle" fill="#111">3000</text>
<text x="538.47" y="786" font-size="18" text-anchor="middle" fill="#111">4000</text>
<text x="613.54" y="786" font-size="18" text-anchor="middle" fill="#111">5000</text>
<text x="688.6099999999999" y="786" font-size="18" text-anchor="middle" fill="#111">6000</text>
<text x="568.6" y="810.5" font-size="19.5" text-anchor="middle" fill="#111">Color temperature (K)</text>
<text transform="translate(401,661.5) rotate(-90)" font-size="19.5" text-anchor="middle" fill="#111">Strain</text>
<line x1="556.3" y1="575.8" x2="598.3" y2="575.8" stroke="#1DBF93" stroke-width="2"/>
<circle cx="577.2" cy="598" r="5" fill="#0a0a0a"/>
<path d="M577.2,613.6 L583.4,623.9 L571,623.9 Z" fill="#F01414"/>
<text x="602.6" y="581.3" font-size="17.8" text-anchor="start" fill="#111">True value</text>
<text x="602.2" y="603.3" font-size="17.8" text-anchor="start" fill="#111">Uncorrected</text>
<text x="602.2" y="625.5" font-size="17.8" text-anchor="start" fill="#111">Corrected</text>
<text x="726" y="542.6" font-size="33.6" text-anchor="start" fill="#111">f</text>
<g fill="#FBD2A0" stroke="#F0800C" stroke-width="1.25">
<circle cx="800.3" cy="756.5" r="2.2"/>
<circle cx="800.7" cy="754.3" r="2.2"/>
<circle cx="801.2" cy="753.5" r="2.2"/>
<circle cx="801.6" cy="749.4" r="2.2"/>
<circle cx="802.1" cy="756.7" r="2.2"/>
<circle cx="802.6" cy="754.9" r="2.2"/>
<circle cx="803.0" cy="754.2" r="2.2"/>
<circle cx="803.5" cy="753.3" r="2.2"/>
<circle cx="803.9" cy="756.5" r="2.2"/>
<circle cx="804.4" cy="756.6" r="2.2"/>
<circle cx="804.9" cy="753.9" r="2.2"/>
<circle cx="805.3" cy="754.2" r="2.2"/>
<circle cx="805.8" cy="752.7" r="2.2"/>
<circle cx="806.2" cy="753.5" r="2.2"/>
<circle cx="806.7" cy="755.0" r="2.2"/>
<circle cx="807.2" cy="755.2" r="2.2"/>
<circle cx="807.6" cy="751.3" r="2.2"/>
<circle cx="808.1" cy="755.2" r="2.2"/>
<circle cx="808.5" cy="755.9" r="2.2"/>
<circle cx="809.0" cy="756.4" r="2.2"/>
<circle cx="809.5" cy="754.7" r="2.2"/>
<circle cx="809.9" cy="754.6" r="2.2"/>
<circle cx="810.4" cy="755.3" r="2.2"/>
<circle cx="810.8" cy="754.9" r="2.2"/>
<circle cx="811.3" cy="754.5" r="2.2"/>
<circle cx="811.8" cy="753.9" r="2.2"/>
<circle cx="812.2" cy="753.3" r="2.2"/>
<circle cx="812.7" cy="754.5" r="2.2"/>
<circle cx="813.1" cy="757.3" r="2.2"/>
<circle cx="813.6" cy="753.9" r="2.2"/>
<circle cx="814.1" cy="756.8" r="2.2"/>
<circle cx="814.5" cy="755.1" r="2.2"/>
<circle cx="815.0" cy="756.9" r="2.2"/>
<circle cx="815.4" cy="754.8" r="2.2"/>
<circle cx="815.9" cy="755.9" r="2.2"/>
<circle cx="816.4" cy="754.5" r="2.2"/>
<circle cx="816.8" cy="750.3" r="2.2"/>
<circle cx="817.3" cy="754.9" r="2.2"/>
<circle cx="817.7" cy="753.7" r="2.2"/>
<circle cx="818.2" cy="756.7" r="2.2"/>
<circle cx="818.7" cy="755.2" r="2.2"/>
<circle cx="819.1" cy="753.9" r="2.2"/>
<circle cx="819.6" cy="755.0" r="2.2"/>
<circle cx="820.0" cy="754.3" r="2.2"/>
<circle cx="820.5" cy="754.7" r="2.2"/>
<circle cx="821.0" cy="756.2" r="2.2"/>
<circle cx="821.4" cy="754.1" r="2.2"/>
<circle cx="821.9" cy="756.0" r="2.2"/>
<circle cx="822.3" cy="752.3" r="2.2"/>
<circle cx="822.8" cy="755.5" r="2.2"/>
<circle cx="823.2" cy="753.9" r="2.2"/>
<circle cx="823.7" cy="754.8" r="2.2"/>
<circle cx="824.2" cy="753.5" r="2.2"/>
<circle cx="824.6" cy="755.7" r="2.2"/>
<circle cx="825.1" cy="753.5" r="2.2"/>
<circle cx="825.5" cy="755.0" r="2.2"/>
<circle cx="826.0" cy="753.1" r="2.2"/>
<circle cx="826.5" cy="754.0" r="2.2"/>
<circle cx="826.9" cy="754.6" r="2.2"/>
<circle cx="827.4" cy="755.9" r="2.2"/>
<circle cx="827.8" cy="753.8" r="2.2"/>
<circle cx="828.3" cy="754.2" r="2.2"/>
<circle cx="828.8" cy="752.6" r="2.2"/>
<circle cx="829.2" cy="755.4" r="2.2"/>
<circle cx="829.7" cy="754.1" r="2.2"/>
<circle cx="830.1" cy="754.1" r="2.2"/>
<circle cx="830.6" cy="754.4" r="2.2"/>
<circle cx="831.1" cy="754.6" r="2.2"/>
<circle cx="831.5" cy="754.6" r="2.2"/>
<circle cx="832.0" cy="755.7" r="2.2"/>
<circle cx="832.4" cy="756.2" r="2.2"/>
<circle cx="832.9" cy="755.4" r="2.2"/>
<circle cx="833.4" cy="754.0" r="2.2"/>
<circle cx="833.8" cy="752.8" r="2.2"/>
<circle cx="834.3" cy="753.5" r="2.2"/>
<circle cx="835.2" cy="722.9" r="2.2"/>
<circle cx="835.7" cy="723.2" r="2.2"/>
<circle cx="836.1" cy="723.4" r="2.2"/>
<circle cx="836.6" cy="724.1" r="2.2"/>
<circle cx="837.0" cy="723.3" r="2.2"/>
<circle cx="837.5" cy="721.9" r="2.2"/>
<circle cx="838.0" cy="724.8" r="2.2"/>
<circle cx="838.4" cy="725.3" r="2.2"/>
<circle cx="838.9" cy="721.6" r="2.2"/>
<circle cx="839.3" cy="724.0" r="2.2"/>
<circle cx="839.8" cy="723.0" r="2.2"/>
<circle cx="840.3" cy="723.1" r="2.2"/>
<circle cx="840.7" cy="725.9" r="2.2"/>
<circle cx="841.2" cy="721.0" r="2.2"/>
<circle cx="841.6" cy="714.2" r="2.2"/>
<circle cx="842.1" cy="724.1" r="2.2"/>
<circle cx="842.6" cy="723.3" r="2.2"/>
<circle cx="843.0" cy="724.1" r="2.2"/>
<circle cx="843.5" cy="725.5" r="2.2"/>
<circle cx="843.9" cy="724.5" r="2.2"/>
<circle cx="844.4" cy="723.8" r="2.2"/>
<circle cx="844.9" cy="722.8" r="2.2"/>
<circle cx="845.3" cy="723.3" r="2.2"/>
<circle cx="845.8" cy="724.2" r="2.2"/>
<circle cx="846.2" cy="722.5" r="2.2"/>
<circle cx="846.7" cy="725.4" r="2.2"/>
<circle cx="847.2" cy="723.2" r="2.2"/>
<circle cx="847.6" cy="722.8" r="2.2"/>
<circle cx="848.1" cy="724.7" r="2.2"/>
<circle cx="848.5" cy="726.8" r="2.2"/>
<circle cx="849.0" cy="725.6" r="2.2"/>
<circle cx="849.5" cy="724.0" r="2.2"/>
<circle cx="849.9" cy="723.6" r="2.2"/>
<circle cx="850.4" cy="722.2" r="2.2"/>
<circle cx="850.8" cy="725.7" r="2.2"/>
<circle cx="851.3" cy="724.3" r="2.2"/>
<circle cx="851.8" cy="723.4" r="2.2"/>
<circle cx="852.2" cy="724.5" r="2.2"/>
<circle cx="852.7" cy="727.6" r="2.2"/>
<circle cx="853.1" cy="723.2" r="2.2"/>
<circle cx="853.6" cy="721.1" r="2.2"/>
<circle cx="854.1" cy="722.9" r="2.2"/>
<circle cx="854.5" cy="725.6" r="2.2"/>
<circle cx="855.0" cy="724.9" r="2.2"/>
<circle cx="855.4" cy="724.0" r="2.2"/>
<circle cx="855.9" cy="720.9" r="2.2"/>
<circle cx="856.4" cy="723.5" r="2.2"/>
<circle cx="856.8" cy="724.2" r="2.2"/>
<circle cx="857.3" cy="722.2" r="2.2"/>
<circle cx="857.7" cy="724.4" r="2.2"/>
<circle cx="858.2" cy="721.8" r="2.2"/>
<circle cx="858.7" cy="725.3" r="2.2"/>
<circle cx="859.1" cy="725.0" r="2.2"/>
<circle cx="859.6" cy="723.3" r="2.2"/>
<circle cx="860.0" cy="722.4" r="2.2"/>
<circle cx="860.5" cy="723.4" r="2.2"/>
<circle cx="861.0" cy="723.9" r="2.2"/>
<circle cx="861.4" cy="726.8" r="2.2"/>
<circle cx="861.9" cy="725.3" r="2.2"/>
<circle cx="862.3" cy="725.2" r="2.2"/>
<circle cx="862.8" cy="725.0" r="2.2"/>
<circle cx="863.3" cy="723.5" r="2.2"/>
<circle cx="863.7" cy="724.8" r="2.2"/>
<circle cx="864.2" cy="723.2" r="2.2"/>
<circle cx="864.6" cy="724.2" r="2.2"/>
<circle cx="865.1" cy="724.8" r="2.2"/>
<circle cx="865.6" cy="724.2" r="2.2"/>
<circle cx="866.0" cy="723.7" r="2.2"/>
<circle cx="866.5" cy="723.1" r="2.2"/>
<circle cx="866.9" cy="725.0" r="2.2"/>
<circle cx="867.4" cy="724.6" r="2.2"/>
<circle cx="867.9" cy="726.2" r="2.2"/>
<circle cx="868.3" cy="722.1" r="2.2"/>
<circle cx="868.8" cy="722.3" r="2.2"/>
<circle cx="869.2" cy="724.6" r="2.2"/>
<circle cx="869.7" cy="694.5" r="2.2"/>
<circle cx="870.1" cy="695.5" r="2.2"/>
<circle cx="870.6" cy="693.6" r="2.2"/>
<circle cx="871.1" cy="693.5" r="2.2"/>
<circle cx="871.5" cy="690.8" r="2.2"/>
<circle cx="872.0" cy="693.5" r="2.2"/>
<circle cx="872.4" cy="694.9" r="2.2"/>
<circle cx="872.9" cy="697.2" r="2.2"/>
<circle cx="873.4" cy="691.9" r="2.2"/>
<circle cx="873.8" cy="693.5" r="2.2"/>
<circle cx="874.3" cy="696.0" r="2.2"/>
<circle cx="874.7" cy="693.5" r="2.2"/>
<circle cx="875.2" cy="696.0" r="2.2"/>
<circle cx="875.7" cy="689.0" r="2.2"/>
<circle cx="876.1" cy="692.3" r="2.2"/>
<circle cx="876.6" cy="693.0" r="2.2"/>
<circle cx="877.0" cy="694.0" r="2.2"/>
<circle cx="877.5" cy="696.7" r="2.2"/>
<circle cx="878.0" cy="694.0" r="2.2"/>
<circle cx="878.4" cy="695.9" r="2.2"/>
<circle cx="878.9" cy="693.0" r="2.2"/>
<circle cx="879.3" cy="696.7" r="2.2"/>
<circle cx="879.8" cy="695.0" r="2.2"/>
<circle cx="880.3" cy="692.1" r="2.2"/>
<circle cx="880.7" cy="691.5" r="2.2"/>
<circle cx="881.2" cy="695.4" r="2.2"/>
<circle cx="881.6" cy="695.9" r="2.2"/>
<circle cx="882.1" cy="692.6" r="2.2"/>
<circle cx="882.6" cy="692.6" r="2.2"/>
<circle cx="883.0" cy="695.2" r="2.2"/>
<circle cx="883.5" cy="694.8" r="2.2"/>
<circle cx="883.9" cy="694.8" r="2.2"/>
<circle cx="884.4" cy="695.4" r="2.2"/>
<circle cx="884.9" cy="694.7" r="2.2"/>
<circle cx="885.3" cy="692.1" r="2.2"/>
<circle cx="885.8" cy="692.8" r="2.2"/>
<circle cx="886.2" cy="691.0" r="2.2"/>
<circle cx="886.7" cy="693.9" r="2.2"/>
<circle cx="887.2" cy="694.0" r="2.2"/>
<circle cx="887.6" cy="695.1" r="2.2"/>
<circle cx="888.1" cy="694.0" r="2.2"/>
<circle cx="888.5" cy="695.6" r="2.2"/>
<circle cx="889.0" cy="696.2" r="2.2"/>
<circle cx="889.5" cy="692.8" r="2.2"/>
<circle cx="889.9" cy="691.8" r="2.2"/>
<circle cx="890.4" cy="692.6" r="2.2"/>
<circle cx="890.8" cy="692.0" r="2.2"/>
<circle cx="891.3" cy="693.5" r="2.2"/>
<circle cx="891.8" cy="694.8" r="2.2"/>
<circle cx="892.2" cy="693.7" r="2.2"/>
<circle cx="892.7" cy="694.3" r="2.2"/>
<circle cx="893.1" cy="695.3" r="2.2"/>
<circle cx="893.6" cy="696.1" r="2.2"/>
<circle cx="894.1" cy="695.8" r="2.2"/>
<circle cx="894.5" cy="693.8" r="2.2"/>
<circle cx="895.0" cy="693.6" r="2.2"/>
<circle cx="895.4" cy="694.4" r="2.2"/>
<circle cx="895.9" cy="691.8" r="2.2"/>
<circle cx="896.4" cy="693.6" r="2.2"/>
<circle cx="896.8" cy="693.0" r="2.2"/>
<circle cx="897.3" cy="692.1" r="2.2"/>
<circle cx="897.7" cy="694.9" r="2.2"/>
<circle cx="898.2" cy="696.5" r="2.2"/>
<circle cx="898.7" cy="692.8" r="2.2"/>
<circle cx="899.1" cy="694.7" r="2.2"/>
<circle cx="899.6" cy="692.0" r="2.2"/>
<circle cx="900.0" cy="693.3" r="2.2"/>
<circle cx="900.5" cy="695.5" r="2.2"/>
<circle cx="901.0" cy="695.8" r="2.2"/>
<circle cx="901.4" cy="699.7" r="2.2"/>
<circle cx="901.9" cy="695.9" r="2.2"/>
<circle cx="902.3" cy="697.8" r="2.2"/>
<circle cx="902.8" cy="697.9" r="2.2"/>
<circle cx="903.3" cy="697.4" r="2.2"/>
<circle cx="903.7" cy="695.8" r="2.2"/>
<circle cx="904.2" cy="662.1" r="2.2"/>
<circle cx="904.6" cy="661.9" r="2.2"/>
<circle cx="905.1" cy="665.6" r="2.2"/>
<circle cx="905.6" cy="664.1" r="2.2"/>
<circle cx="906.0" cy="666.5" r="2.2"/>
<circle cx="906.5" cy="663.4" r="2.2"/>
<circle cx="906.9" cy="662.5" r="2.2"/>
<circle cx="907.4" cy="664.3" r="2.2"/>
<circle cx="907.9" cy="662.9" r="2.2"/>
<circle cx="908.3" cy="663.0" r="2.2"/>
<circle cx="908.8" cy="661.9" r="2.2"/>
<circle cx="909.2" cy="664.4" r="2.2"/>
<circle cx="909.7" cy="664.4" r="2.2"/>
<circle cx="910.2" cy="664.3" r="2.2"/>
<circle cx="910.6" cy="660.9" r="2.2"/>
<circle cx="911.1" cy="661.8" r="2.2"/>
<circle cx="911.5" cy="663.4" r="2.2"/>
<circle cx="912.0" cy="663.0" r="2.2"/>
<circle cx="912.5" cy="663.1" r="2.2"/>
<circle cx="912.9" cy="663.0" r="2.2"/>
<circle cx="913.4" cy="663.6" r="2.2"/>
<circle cx="913.8" cy="663.7" r="2.2"/>
<circle cx="914.3" cy="665.0" r="2.2"/>
<circle cx="914.8" cy="664.2" r="2.2"/>
<circle cx="915.2" cy="661.0" r="2.2"/>
<circle cx="915.7" cy="662.5" r="2.2"/>
<circle cx="916.1" cy="663.2" r="2.2"/>
<circle cx="916.6" cy="663.6" r="2.2"/>
<circle cx="917.0" cy="663.2" r="2.2"/>
<circle cx="917.5" cy="662.8" r="2.2"/>
<circle cx="918.0" cy="664.2" r="2.2"/>
<circle cx="918.4" cy="663.0" r="2.2"/>
<circle cx="918.9" cy="662.9" r="2.2"/>
<circle cx="919.3" cy="664.3" r="2.2"/>
<circle cx="919.8" cy="664.4" r="2.2"/>
<circle cx="920.3" cy="664.6" r="2.2"/>
<circle cx="920.7" cy="664.7" r="2.2"/>
<circle cx="921.2" cy="662.1" r="2.2"/>
<circle cx="921.6" cy="666.5" r="2.2"/>
<circle cx="922.1" cy="663.6" r="2.2"/>
<circle cx="922.6" cy="664.1" r="2.2"/>
<circle cx="923.0" cy="664.1" r="2.2"/>
<circle cx="923.5" cy="663.1" r="2.2"/>
<circle cx="923.9" cy="661.7" r="2.2"/>
<circle cx="924.4" cy="663.2" r="2.2"/>
<circle cx="924.9" cy="663.5" r="2.2"/>
<circle cx="925.3" cy="664.1" r="2.2"/>
<circle cx="925.8" cy="663.5" r="2.2"/>
<circle cx="926.2" cy="662.0" r="2.2"/>
<circle cx="926.7" cy="663.8" r="2.2"/>
<circle cx="927.2" cy="664.9" r="2.2"/>
<circle cx="927.6" cy="665.0" r="2.2"/>
<circle cx="928.1" cy="664.8" r="2.2"/>
<circle cx="928.5" cy="665.2" r="2.2"/>
<circle cx="929.0" cy="661.8" r="2.2"/>
<circle cx="929.5" cy="662.8" r="2.2"/>
<circle cx="929.9" cy="663.6" r="2.2"/>
<circle cx="930.4" cy="661.3" r="2.2"/>
<circle cx="930.8" cy="664.2" r="2.2"/>
<circle cx="931.3" cy="662.2" r="2.2"/>
<circle cx="931.8" cy="662.2" r="2.2"/>
<circle cx="932.2" cy="665.4" r="2.2"/>
<circle cx="932.7" cy="665.4" r="2.2"/>
<circle cx="933.1" cy="664.6" r="2.2"/>
<circle cx="933.6" cy="662.0" r="2.2"/>
<circle cx="934.1" cy="661.5" r="2.2"/>
<circle cx="934.5" cy="665.0" r="2.2"/>
<circle cx="935.0" cy="664.9" r="2.2"/>
<circle cx="935.4" cy="666.9" r="2.2"/>
<circle cx="935.9" cy="666.9" r="2.2"/>
<circle cx="936.4" cy="667.1" r="2.2"/>
<circle cx="936.8" cy="666.8" r="2.2"/>
<circle cx="937.3" cy="668.8" r="2.2"/>
<circle cx="937.7" cy="667.7" r="2.2"/>
<circle cx="938.2" cy="668.0" r="2.2"/>
<circle cx="938.7" cy="631.9" r="2.2"/>
<circle cx="939.1" cy="628.9" r="2.2"/>
<circle cx="939.6" cy="627.8" r="2.2"/>
<circle cx="940.0" cy="633.4" r="2.2"/>
<circle cx="940.5" cy="635.9" r="2.2"/>
<circle cx="941.0" cy="633.5" r="2.2"/>
<circle cx="941.4" cy="634.5" r="2.2"/>
<circle cx="941.9" cy="629.1" r="2.2"/>
<circle cx="942.3" cy="631.7" r="2.2"/>
<circle cx="942.8" cy="634.1" r="2.2"/>
<circle cx="943.3" cy="631.0" r="2.2"/>
<circle cx="943.7" cy="626.8" r="2.2"/>
<circle cx="944.2" cy="633.0" r="2.2"/>
<circle cx="944.6" cy="632.3" r="2.2"/>
<circle cx="945.1" cy="632.8" r="2.2"/>
<circle cx="945.6" cy="631.1" r="2.2"/>
<circle cx="946.0" cy="628.9" r="2.2"/>
<circle cx="946.5" cy="627.1" r="2.2"/>
<circle cx="946.9" cy="630.6" r="2.2"/>
<circle cx="947.4" cy="631.8" r="2.2"/>
<circle cx="947.9" cy="632.2" r="2.2"/>
<circle cx="948.3" cy="632.3" r="2.2"/>
<circle cx="948.8" cy="629.3" r="2.2"/>
<circle cx="949.2" cy="627.5" r="2.2"/>
<circle cx="949.7" cy="632.3" r="2.2"/>
<circle cx="950.2" cy="633.6" r="2.2"/>
<circle cx="950.6" cy="627.4" r="2.2"/>
<circle cx="951.1" cy="634.5" r="2.2"/>
<circle cx="951.5" cy="625.7" r="2.2"/>
<circle cx="952.0" cy="631.4" r="2.2"/>
<circle cx="952.5" cy="629.8" r="2.2"/>
<circle cx="952.9" cy="632.7" r="2.2"/>
<circle cx="953.4" cy="629.4" r="2.2"/>
<circle cx="953.8" cy="628.7" r="2.2"/>
<circle cx="954.3" cy="627.6" r="2.2"/>
<circle cx="954.8" cy="633.2" r="2.2"/>
<circle cx="955.2" cy="630.3" r="2.2"/>
<circle cx="955.7" cy="626.5" r="2.2"/>
<circle cx="956.1" cy="633.5" r="2.2"/>
<circle cx="956.6" cy="628.4" r="2.2"/>
<circle cx="957.1" cy="628.7" r="2.2"/>
<circle cx="957.5" cy="633.7" r="2.2"/>
<circle cx="958.0" cy="631.0" r="2.2"/>
<circle cx="958.4" cy="629.0" r="2.2"/>
<circle cx="958.9" cy="633.1" r="2.2"/>
<circle cx="959.4" cy="633.1" r="2.2"/>
<circle cx="959.8" cy="632.3" r="2.2"/>
<circle cx="960.3" cy="631.5" r="2.2"/>
<circle cx="960.7" cy="633.4" r="2.2"/>
<circle cx="961.2" cy="634.2" r="2.2"/>
<circle cx="961.6" cy="634.3" r="2.2"/>
<circle cx="962.1" cy="630.7" r="2.2"/>
<circle cx="962.6" cy="630.4" r="2.2"/>
<circle cx="963.0" cy="630.9" r="2.2"/>
<circle cx="963.5" cy="631.2" r="2.2"/>
<circle cx="963.9" cy="631.2" r="2.2"/>
<circle cx="964.4" cy="632.8" r="2.2"/>
<circle cx="964.9" cy="631.5" r="2.2"/>
<circle cx="965.3" cy="634.7" r="2.2"/>
<circle cx="965.8" cy="633.1" r="2.2"/>
<circle cx="966.2" cy="634.1" r="2.2"/>
<circle cx="966.7" cy="631.4" r="2.2"/>
<circle cx="967.2" cy="633.8" r="2.2"/>
<circle cx="967.6" cy="633.0" r="2.2"/>
<circle cx="968.1" cy="632.0" r="2.2"/>
<circle cx="968.5" cy="630.3" r="2.2"/>
<circle cx="969.0" cy="634.2" r="2.2"/>
<circle cx="969.5" cy="634.5" r="2.2"/>
<circle cx="969.9" cy="631.3" r="2.2"/>
<circle cx="970.4" cy="634.8" r="2.2"/>
<circle cx="970.8" cy="631.9" r="2.2"/>
<circle cx="971.3" cy="633.8" r="2.2"/>
<circle cx="971.8" cy="633.0" r="2.2"/>
<circle cx="972.2" cy="636.1" r="2.2"/>
<circle cx="972.7" cy="631.5" r="2.2"/>
<circle cx="973.1" cy="603.2" r="2.2"/>
<circle cx="973.6" cy="603.9" r="2.2"/>
<circle cx="974.1" cy="598.4" r="2.2"/>
<circle cx="974.5" cy="600.9" r="2.2"/>
<circle cx="975.0" cy="595.8" r="2.2"/>
<circle cx="975.4" cy="601.5" r="2.2"/>
<circle cx="975.9" cy="601.1" r="2.2"/>
<circle cx="976.4" cy="597.8" r="2.2"/>
<circle cx="976.8" cy="598.5" r="2.2"/>
<circle cx="977.3" cy="602.0" r="2.2"/>
<circle cx="977.7" cy="601.3" r="2.2"/>
<circle cx="978.2" cy="597.3" r="2.2"/>
<circle cx="978.7" cy="601.1" r="2.2"/>
<circle cx="979.1" cy="603.1" r="2.2"/>
<circle cx="979.6" cy="599.3" r="2.2"/>
<circle cx="980.0" cy="599.7" r="2.2"/>
<circle cx="980.5" cy="600.4" r="2.2"/>
<circle cx="981.0" cy="599.5" r="2.2"/>
<circle cx="981.4" cy="600.3" r="2.2"/>
<circle cx="981.9" cy="602.8" r="2.2"/>
<circle cx="982.3" cy="600.4" r="2.2"/>
<circle cx="982.8" cy="595.1" r="2.2"/>
<circle cx="983.3" cy="604.3" r="2.2"/>
<circle cx="983.7" cy="594.8" r="2.2"/>
<circle cx="984.2" cy="597.5" r="2.2"/>
<circle cx="984.6" cy="601.4" r="2.2"/>
<circle cx="985.1" cy="599.0" r="2.2"/>
<circle cx="985.6" cy="601.3" r="2.2"/>
<circle cx="986.0" cy="602.3" r="2.2"/>
<circle cx="986.5" cy="602.8" r="2.2"/>
<circle cx="986.9" cy="600.4" r="2.2"/>
<circle cx="987.4" cy="602.4" r="2.2"/>
<circle cx="987.9" cy="604.1" r="2.2"/>
<circle cx="988.3" cy="601.9" r="2.2"/>
<circle cx="988.8" cy="601.2" r="2.2"/>
<circle cx="989.2" cy="602.6" r="2.2"/>
<circle cx="989.7" cy="602.3" r="2.2"/>
<circle cx="990.2" cy="599.7" r="2.2"/>
<circle cx="990.6" cy="604.3" r="2.2"/>
<circle cx="991.1" cy="603.3" r="2.2"/>
<circle cx="991.5" cy="605.7" r="2.2"/>
<circle cx="992.0" cy="603.5" r="2.2"/>
<circle cx="992.5" cy="603.6" r="2.2"/>
<circle cx="992.9" cy="604.0" r="2.2"/>
<circle cx="993.4" cy="603.5" r="2.2"/>
<circle cx="993.8" cy="598.9" r="2.2"/>
<circle cx="994.3" cy="602.6" r="2.2"/>
<circle cx="994.8" cy="602.4" r="2.2"/>
<circle cx="995.2" cy="598.2" r="2.2"/>
<circle cx="995.7" cy="602.3" r="2.2"/>
<circle cx="996.1" cy="605.4" r="2.2"/>
<circle cx="996.6" cy="601.5" r="2.2"/>
<circle cx="997.1" cy="604.0" r="2.2"/>
<circle cx="997.5" cy="599.2" r="2.2"/>
<circle cx="998.0" cy="604.5" r="2.2"/>
<circle cx="998.4" cy="603.3" r="2.2"/>
<circle cx="998.9" cy="605.2" r="2.2"/>
<circle cx="999.4" cy="602.1" r="2.2"/>
<circle cx="999.8" cy="604.1" r="2.2"/>
<circle cx="1000.3" cy="602.4" r="2.2"/>
<circle cx="1000.7" cy="602.9" r="2.2"/>
<circle cx="1001.2" cy="603.4" r="2.2"/>
<circle cx="1001.7" cy="600.5" r="2.2"/>
<circle cx="1002.1" cy="600.5" r="2.2"/>
<circle cx="1002.6" cy="602.1" r="2.2"/>
<circle cx="1003.0" cy="603.9" r="2.2"/>
<circle cx="1003.5" cy="604.2" r="2.2"/>
<circle cx="1004.0" cy="601.7" r="2.2"/>
<circle cx="1004.4" cy="597.9" r="2.2"/>
<circle cx="1004.9" cy="603.1" r="2.2"/>
<circle cx="1005.3" cy="603.7" r="2.2"/>
<circle cx="1005.8" cy="603.5" r="2.2"/>
<circle cx="1006.3" cy="604.2" r="2.2"/>
<circle cx="1006.7" cy="604.0" r="2.2"/>
<circle cx="1007.2" cy="602.6" r="2.2"/>
<circle cx="1007.6" cy="569.1" r="2.2"/>
<circle cx="1008.1" cy="574.6" r="2.2"/>
<circle cx="1008.5" cy="571.4" r="2.2"/>
<circle cx="1009.0" cy="575.3" r="2.2"/>
<circle cx="1009.5" cy="570.6" r="2.2"/>
<circle cx="1009.9" cy="570.3" r="2.2"/>
<circle cx="1010.4" cy="571.9" r="2.2"/>
<circle cx="1010.8" cy="569.1" r="2.2"/>
<circle cx="1011.3" cy="574.2" r="2.2"/>
<circle cx="1011.8" cy="569.7" r="2.2"/>
<circle cx="1012.2" cy="569.2" r="2.2"/>
<circle cx="1012.7" cy="571.9" r="2.2"/>
<circle cx="1013.1" cy="575.4" r="2.2"/>
<circle cx="1013.6" cy="566.9" r="2.2"/>
<circle cx="1014.1" cy="569.4" r="2.2"/>
<circle cx="1014.5" cy="569.4" r="2.2"/>
<circle cx="1015.0" cy="572.5" r="2.2"/>
<circle cx="1015.4" cy="570.3" r="2.2"/>
<circle cx="1015.9" cy="574.4" r="2.2"/>
<circle cx="1016.4" cy="572.0" r="2.2"/>
<circle cx="1016.8" cy="574.3" r="2.2"/>
<circle cx="1017.3" cy="570.4" r="2.2"/>
<circle cx="1017.7" cy="571.6" r="2.2"/>
<circle cx="1018.2" cy="571.3" r="2.2"/>
<circle cx="1018.7" cy="568.3" r="2.2"/>
<circle cx="1019.1" cy="573.1" r="2.2"/>
<circle cx="1019.6" cy="572.1" r="2.2"/>
<circle cx="1020.0" cy="567.5" r="2.2"/>
<circle cx="1020.5" cy="567.0" r="2.2"/>
<circle cx="1021.0" cy="573.0" r="2.2"/>
<circle cx="1021.4" cy="570.5" r="2.2"/>
<circle cx="1021.9" cy="576.4" r="2.2"/>
<circle cx="1022.3" cy="573.4" r="2.2"/>
<circle cx="1022.8" cy="568.7" r="2.2"/>
<circle cx="1023.3" cy="572.8" r="2.2"/>
<circle cx="1023.7" cy="574.1" r="2.2"/>
<circle cx="1024.2" cy="571.2" r="2.2"/>
<circle cx="1024.6" cy="572.8" r="2.2"/>
<circle cx="1025.1" cy="573.6" r="2.2"/>
<circle cx="1025.6" cy="572.8" r="2.2"/>
<circle cx="1026.0" cy="574.0" r="2.2"/>
<circle cx="1026.5" cy="572.8" r="2.2"/>
<circle cx="1026.9" cy="567.2" r="2.2"/>
<circle cx="1027.4" cy="572.7" r="2.2"/>
<circle cx="1027.9" cy="567.1" r="2.2"/>
<circle cx="1028.3" cy="572.8" r="2.2"/>
<circle cx="1028.8" cy="571.9" r="2.2"/>
<circle cx="1029.2" cy="574.1" r="2.2"/>
<circle cx="1029.7" cy="574.8" r="2.2"/>
<circle cx="1030.2" cy="572.5" r="2.2"/>
<circle cx="1030.6" cy="568.3" r="2.2"/>
<circle cx="1031.1" cy="569.7" r="2.2"/>
<circle cx="1031.5" cy="571.0" r="2.2"/>
<circle cx="1032.0" cy="570.7" r="2.2"/>
<circle cx="1032.5" cy="572.7" r="2.2"/>
<circle cx="1032.9" cy="572.5" r="2.2"/>
<circle cx="1033.4" cy="568.4" r="2.2"/>
<circle cx="1033.8" cy="574.7" r="2.2"/>
<circle cx="1034.3" cy="572.2" r="2.2"/>
<circle cx="1034.8" cy="570.2" r="2.2"/>
<circle cx="1035.2" cy="574.2" r="2.2"/>
<circle cx="1035.7" cy="570.6" r="2.2"/>
<circle cx="1036.1" cy="572.4" r="2.2"/>
<circle cx="1036.6" cy="572.4" r="2.2"/>
<circle cx="1037.1" cy="572.5" r="2.2"/>
<circle cx="1037.5" cy="572.2" r="2.2"/>
<circle cx="1038.0" cy="577.9" r="2.2"/>
<circle cx="1038.4" cy="571.4" r="2.2"/>
<circle cx="1038.9" cy="574.6" r="2.2"/>
<circle cx="1039.4" cy="572.8" r="2.2"/>
<circle cx="1039.8" cy="567.2" r="2.2"/>
<circle cx="1040.3" cy="570.8" r="2.2"/>
<circle cx="1040.7" cy="574.2" r="2.2"/>
<circle cx="1041.2" cy="573.3" r="2.2"/>
<circle cx="1041.7" cy="572.1" r="2.2"/>
</g>
<line x1="800.3" y1="755.6" x2="835.2" y2="755.6" stroke="#1010D8" stroke-width="2"/>
<line x1="834.7" y1="725.1" x2="869.7" y2="725.1" stroke="#1010D8" stroke-width="2"/>
<line x1="869.2" y1="694.6" x2="904.2" y2="694.6" stroke="#1010D8" stroke-width="2"/>
<line x1="903.7" y1="664.0" x2="938.7" y2="664.0" stroke="#1010D8" stroke-width="2"/>
<line x1="938.2" y1="633.5" x2="973.1" y2="633.5" stroke="#1010D8" stroke-width="2"/>
<line x1="972.7" y1="603.0" x2="1007.6" y2="603.0" stroke="#1010D8" stroke-width="2"/>
<line x1="1007.2" y1="572.5" x2="1042.1" y2="572.5" stroke="#1010D8" stroke-width="2"/>
<rect x="788.8" y="557" width="264.2" height="213.0" fill="none" stroke="#111" stroke-width="1.6"/>
<g stroke="#111" stroke-width="1.3">
<line x1="788.8" y1="755.6" x2="795.1999999999999" y2="755.6"/>
<line x1="788.8" y1="725.1" x2="795.1999999999999" y2="725.1"/>
<line x1="788.8" y1="694.6" x2="795.1999999999999" y2="694.6"/>
<line x1="788.8" y1="664.0" x2="795.1999999999999" y2="664.0"/>
<line x1="788.8" y1="633.5" x2="795.1999999999999" y2="633.5"/>
<line x1="788.8" y1="603.0" x2="795.1999999999999" y2="603.0"/>
<line x1="788.8" y1="572.5" x2="795.1999999999999" y2="572.5"/>
<line x1="788.8" y1="740.3" x2="792.6999999999999" y2="740.3"/>
<line x1="788.8" y1="709.8" x2="792.6999999999999" y2="709.8"/>
<line x1="788.8" y1="679.3" x2="792.6999999999999" y2="679.3"/>
<line x1="788.8" y1="648.8" x2="792.6999999999999" y2="648.8"/>
<line x1="788.8" y1="618.3" x2="792.6999999999999" y2="618.3"/>
<line x1="788.8" y1="587.7" x2="792.6999999999999" y2="587.7"/>
<line x1="788.8" y1="557.2" x2="792.6999999999999" y2="557.2"/>
<line x1="799.8" y1="770" x2="799.8" y2="764"/>
<line x1="857.3" y1="770" x2="857.3" y2="764"/>
<line x1="914.8" y1="770" x2="914.8" y2="764"/>
<line x1="972.2" y1="770" x2="972.2" y2="764"/>
<line x1="1029.7" y1="770" x2="1029.7" y2="764"/>
<line x1="828.5" y1="770" x2="828.5" y2="766.7"/>
<line x1="886.0" y1="770" x2="886.0" y2="766.7"/>
<line x1="943.5" y1="770" x2="943.5" y2="766.7"/>
<line x1="1001.0" y1="770" x2="1001.0" y2="766.7"/>
</g>
<text x="782.4" y="759.8000000000001" font-size="18" text-anchor="end" fill="#111">0.0</text>
<text x="782.4" y="729.2800000000001" font-size="18" text-anchor="end" fill="#111">0.2</text>
<text x="782.4" y="698.7600000000001" font-size="18" text-anchor="end" fill="#111">0.4</text>
<text x="782.4" y="668.24" font-size="18" text-anchor="end" fill="#111">0.6</text>
<text x="782.4" y="637.72" font-size="18" text-anchor="end" fill="#111">0.8</text>
<text x="782.4" y="607.2" font-size="18" text-anchor="end" fill="#111">1.0</text>
<text x="782.4" y="576.6800000000001" font-size="18" text-anchor="end" fill="#111">1.2</text>
<text x="799.8" y="790.5" font-size="18" text-anchor="middle" fill="#111">0</text>
<text x="857.275" y="790.5" font-size="18" text-anchor="middle" fill="#111">125</text>
<text x="914.75" y="790.5" font-size="18" text-anchor="middle" fill="#111">250</text>
<text x="972.2249999999999" y="790.5" font-size="18" text-anchor="middle" fill="#111">375</text>
<text x="1029.7" y="790.5" font-size="18" text-anchor="middle" fill="#111">500</text>
<text x="925.4" y="810.2" font-size="19.5" text-anchor="middle" fill="#111">Strain dataset</text>
<text transform="translate(749.5,661.5) rotate(-90)" font-size="19.5" text-anchor="middle" fill="#111">Strain</text>
<text x="798" y="580.5" font-size="18.1" text-anchor="start" fill="#111">CT : 3000K-6000k</text>
<circle cx="822.5" cy="600.5" r="3" fill="#F0861A"/><circle cx="821.9" cy="599.8" r="1.1" fill="#FBD2A0"/>
<text x="852" y="606.9" font-size="18.1" text-anchor="start" fill="#111">Predicted</text>
<line x1="797.7" y1="626.8" x2="847.9" y2="626.8" stroke="#1010D8" stroke-width="1.9"/>
<text x="852.4" y="633.3" font-size="18.1" text-anchor="start" fill="#111">Ture</text>
<text x="938" y="703" font-size="18" text-anchor="start" fill="#111">R<tspan dy="-7" font-size="11.5">2</tspan><tspan dy="7"> = 0.998</tspan></text>
<text x="938" y="729.1" font-size="18" text-anchor="start" fill="#111">MSE = 0.018</text>
<text x="938" y="755.9" font-size="18" text-anchor="start" fill="#111">MAE = 0.014</text>
</svg>
</body></html>
